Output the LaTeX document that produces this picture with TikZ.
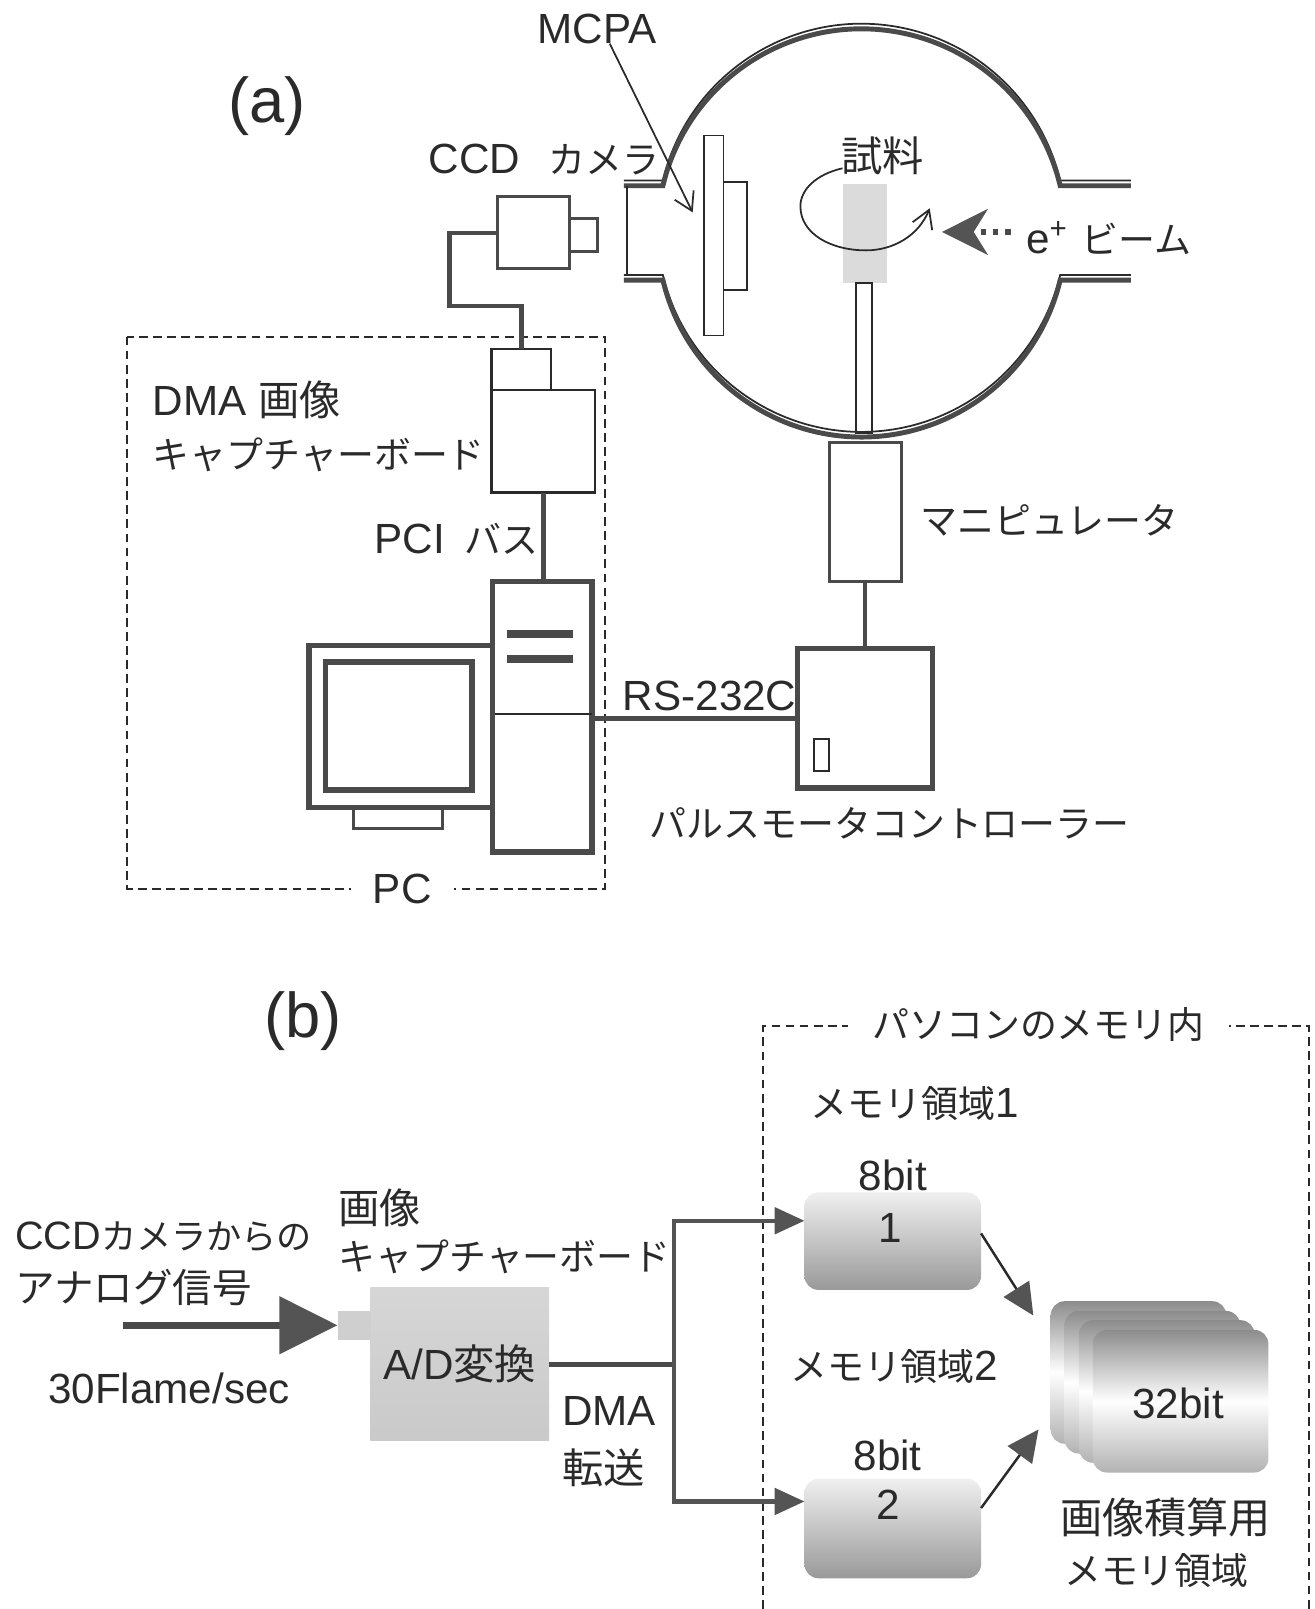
\documentclass[tikz,border=0pt]{standalone}
\usepackage{fontspec}
\setmainfont{Liberation Sans}
\newfontfamily\cjk{Noto Sans CJK JP}
\usetikzlibrary{positioning,arrows.meta,calc}
\definecolor{figInk}{RGB}{42,42,42}
\definecolor{figLine}{RGB}{74,74,74}
\definecolor{figHead}{RGB}{84,84,84}
\newcommand{\lblfont}{\fontsize{24}{28}\selectfont}
\newcommand{\jp}[1]{{\cjk\fontsize{21}{24}\selectfont #1}}
\newcommand{\kj}[1]{{\cjk\fontsize{23.5}{28}\selectfont #1}}

\begin{document}
\begin{tikzpicture}[
  x=0.020515cm, y=0.020515cm,
  font=\lblfont,
  lbl/.style={inner sep=0pt, outer sep=0pt, text=figInk},
  box/.style={draw=figLine, inner sep=0pt, outer sep=0pt},
  thinbox/.style={box, line width=1pt, draw=figInk},
  midbox/.style={box, line width=1.7pt},
  fatbox/.style={box, line width=3pt},
  bar/.style={fill=figLine, inner sep=0pt, outer sep=0pt},
  membox/.style={inner sep=0pt, outer sep=0pt, rounded corners=8pt, top color=gray!12, bottom color=gray!80},
  stackbox/.style={inner sep=0pt, outer sep=0pt, rounded corners=8pt, minimum width=3.51cm, minimum height=2.85cm, top color=gray!90, bottom color=gray!60, middle color=white},
  cable/.style={line width=2.6pt, draw=figLine},
  fence/.style={line width=1.1pt, draw=figInk, dash pattern=on 5pt off 3pt},
  wallthin/.style={line width=1pt, draw=figInk},
  wallfat/.style={line width=2.8pt, draw=figLine},
  barb/.style={line width=1pt, draw=figInk, -{Straight Barb[length=10pt,width=12pt]}},
  arr/.style={line width=2.4pt, draw=figLine, -{Triangle[length=17pt,width=15pt]}, color=figHead},
  slant/.style={line width=1.4pt, draw=figInk, -{Triangle[length=18pt,width=17pt,color=figHead]}},
]
\useasboundingbox (0,0) rectangle (1281,-1568);
% (a) dashed pc frame
\draw[fence] (124,-328) rectangle (590,-866);
\node[lbl, fill=white, minimum width=2.05cm, minimum height=0.9cm] (pcname) at (392,-866) {PC};
% chamber
\draw[wallthin] (608,-176) -- (646,-176) arc[start angle=166.6,end angle=13.4,radius=199] -- (1102,-176);
\draw[wallfat] (608,-181) -- (646,-181) arc[start angle=166.6,end angle=13.4,radius=199] -- (1102,-181);
\draw[wallthin] (608,-268) -- (646,-268) arc[start angle=193.4,end angle=346.6,radius=199] -- (1102,-268);
\draw[wallfat] (608,-273) -- (646,-273) arc[start angle=193.4,end angle=346.6,radius=199] -- (1102,-273);
\draw[wallthin] (611,-181) -- (611,-268);
% inside chamber
\node[thinbox, minimum width=0.39cm, minimum height=4.0cm] (mcp) at (695.5,-229.5) {};
\node[thinbox, minimum width=0.47cm, minimum height=2.17cm] (mcpback) at (716.5,-230) {};
\node[fill=gray!28, inner sep=0pt, minimum width=0.88cm, minimum height=1.99cm] (sample) at (842.5,-227.5) {};
\node[thinbox, minimum width=0.33cm, minimum height=3.0cm] (rod) at (842,-349) {};
\node[lbl] (samplename) at (860,-152) {\kj{試料}};
\coordinate (rotA) at (821,-164);
\draw[barb] (rotA) .. controls (795,-170) and (780,-185) .. (780,-201) .. controls (780,-228) and (810,-244) .. (844,-244) .. controls (870,-244) and (895,-230) .. (906,-203);
% beam
\coordinate (beamtail) at (985,-226);
\coordinate (beamtip) at (918,-226);
\draw[line width=3pt, draw=figLine, dash pattern=on 3pt off 4pt, -{Stealth[length=26pt,width=26pt,inset=8pt,color=figHead]}] (beamtail) -- (beamtip);
\node[lbl, anchor=west] (beamname) at (1000,-232) {e\textsuperscript{+}\hspace{8pt}\jp{ビーム}};
% mcpa leader
\node[lbl] (mcpaname) at (582,-28) {MCPA};
\coordinate (mcpatip) at (675,-207);
\draw[barb] (mcpaname.-50) -- (mcpatip);
% camera
\node[midbox, minimum width=1.44cm, minimum height=1.44cm] (camera) at (520,-227) {};
\node[midbox, minimum width=0.55cm, minimum height=0.66cm] (lens) at (568.5,-229) {};
\node[lbl, anchor=west] (cameraname) at (418,-155) {CCD\hspace{16pt}\jp{カメラ}};
% capture board
\node[thinbox, line width=1.3pt, minimum width=1.19cm, minimum height=0.82cm] (boardtop) at (508,-360) {};
\node[thinbox, line width=1.3pt, minimum width=2.07cm, minimum height=2.05cm] (boardmain) at (529.5,-430) {};
\coordinate (cablebend) at (438,-298);
\draw[cable] (camera.west) -| (cablebend) -| (boardtop.north);
\node[lbl, anchor=west] (dmaname) at (149,-390) {DMA \kj{画像}};
\node[lbl, anchor=west] (boardname) at (149,-443) {\jp{キャプチャーボード}};
\node[lbl, anchor=west] (pciname) at (365,-525) {PCI\hspace{11pt}\jp{バス}};
% pc
\node[fatbox, minimum width=1.99cm, minimum height=5.40cm] (tower) at (528.5,-698.5) {};
\node[bar, minimum width=1.31cm, minimum height=0.16cm] (barA) at (526,-618) {};
\node[bar, minimum width=1.31cm, minimum height=0.16cm] (barB) at (526,-642) {};
\draw[line width=1pt, draw=figInk] (480,-696) -- (577,-696);
\node[fatbox, fill=white, minimum width=3.67cm, minimum height=3.24cm] (monitor) at (390.5,-708) {};
\node[fatbox, minimum width=2.93cm, minimum height=2.56cm] (screen) at (388.5,-707.5) {};
\node[midbox, minimum width=1.78cm, minimum height=0.41cm] (stand) at (387.5,-797) {};
\draw[cable] (boardmain.south) -- (boardmain.south |- tower.north);
% controller, manipulator
\node[fatbox, minimum width=2.71cm, minimum height=2.79cm] (ctrl) at (843,-700) {};
\node[thinbox, minimum width=0.31cm, minimum height=0.64cm] (ctrlbtn) at (800.5,-735.5) {};
\node[midbox, minimum width=1.44cm, minimum height=2.79cm] (manip) at (843,-499) {};
\draw[cable] (manip.south) -- (ctrl.north);
\draw[cable] (tower.east |- ctrl.west) -- (ctrl.west);
\node[lbl, anchor=west] (manipname) at (897,-507) {\jp{マニピュレータ}};
\node[lbl, anchor=west] (rsname) at (607,-678) {RS-232C};
\node[lbl, anchor=west] (ctrlname) at (633,-802) {\jp{パルスモータコントローラー}};
\node[lbl, font=\fontsize{36}{40}\selectfont] (figa) at (260,-103) {(a)};
% (b) memory frame
\draw[fence] (744,-1568) -- (744,-1000) -- (1276,-1000) -- (1276,-1568);
\node[lbl, fill=white, minimum width=7.6cm, minimum height=1cm] (memname) at (1012,-998) {\jp{パソコンのメモリ内}};
\node[lbl, font=\fontsize{36}{40}\selectfont] (figb) at (295,-995) {(b)};
% capture side
\node[lbl, anchor=west] (ccdname) at (15,-1205) {\fontsize{22.5}{26}\selectfont CCD{\cjk\fontsize{20}{24}\selectfont カメラからの}};
\node[lbl, anchor=west] (analogname) at (15,-1255) {\cjk\fontsize{22.5}{26}\selectfont アナログ信号};
\node[lbl, anchor=west] (fpsname) at (47,-1353) {30Flame/sec};
\node[lbl, anchor=west] (imgname) at (330,-1177) {\kj{画像}};
\node[lbl, anchor=west] (capname) at (330,-1225) {\jp{キャプチャーボード}};
\node[inner sep=0pt, outer sep=0pt, top color=gray!32, bottom color=gray!42, minimum width=3.57cm, minimum height=3.06cm, text=figInk] (adc) at (448,-1329.5) {A/D\kj{変換}};
\node[inner sep=0pt, outer sep=0pt, fill=gray!38, minimum width=0.66cm, minimum height=0.59cm] (adcin) at (345,-1291.5) {};
\coordinate (sigtail) at (120,-1291.5);
\draw[line width=4pt, draw=figLine, -{Triangle[length=33pt,width=32pt,color=figHead]}] (sigtail) -- (adcin.west);
\node[lbl, anchor=west] (dmab) at (548,-1375) {DMA};
\node[lbl, anchor=west] (xfername) at (548,-1430) {\kj{転送}};
% memory
\node[membox, minimum width=3.53cm, minimum height=1.95cm, text=figInk] (memA) at (870,-1209.5) {};
\node[membox, minimum width=3.53cm, minimum height=1.99cm, text=figInk] (memB) at (870,-1489.5) {};
\node[lbl] (memAbit) at (870,-1145) {8bit};
\node[lbl] (memAno) at (868,-1197) {1};
\node[lbl] (memBbit) at (865,-1418) {8bit};
\node[lbl] (memBno) at (866,-1466) {2};
\node[lbl, anchor=west] (memAname) at (790,-1075) {\jp{メモリ領域}1};
\node[lbl, anchor=west] (memBname) at (770,-1332) {\jp{メモリ領域}2};
% stack
\node[stackbox] (stackA) at (1109.5,-1337.5) {};
\node[stackbox] (stackB) at (1123,-1347) {};
\node[stackbox] (stackC) at (1137,-1356) {};
\node[stackbox] (stackD) at (1150.5,-1365.5) {};
\node[lbl] (stackbit) at (1148,-1368) {32bit};
\node[lbl, anchor=west] (stackname) at (1033,-1479) {\fontsize{24}{28}\selectfont\cjk 画像積算用};
\node[lbl, anchor=west] (stacknameB) at (1037,-1530) {\jp{メモリ領域}};
% arrows
\coordinate (dmanode) at (657,-1329.5);
\coordinate (stackinA) at (1007,-1282);
\coordinate (stackinB) at (1012,-1393);
\draw[cable] (adc.east) -- (dmanode);
\draw[arr] (dmanode) |- (memA.167);
\draw[arr] (dmanode) |- (memB.163);
\draw[slant] (memA.5) -- (stackinA);
\draw[slant] (memB.13) -- (stackinB);
\end{tikzpicture}
\end{document}
